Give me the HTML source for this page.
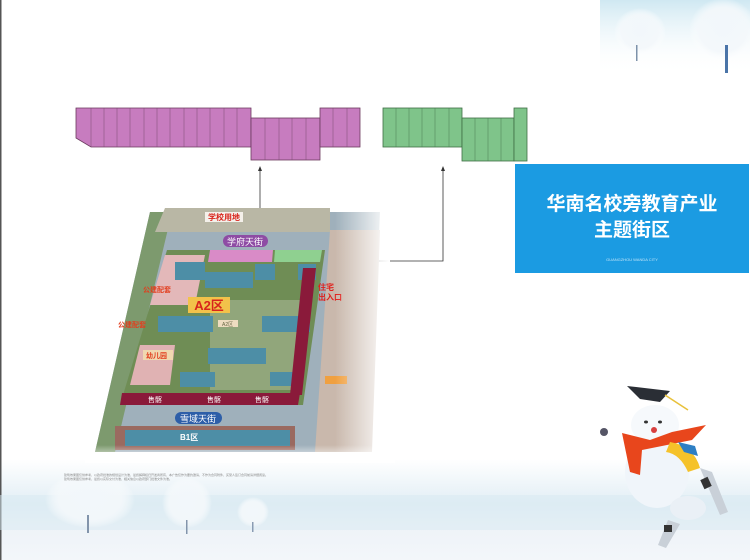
<!DOCTYPE html>
<html><head><meta charset="utf-8">
<style>
html,body{margin:0;padding:0;}
body{width:750px;height:560px;overflow:hidden;position:relative;background:#fff;font-family:"Liberation Sans","Noto Sans CJK SC",sans-serif;}
svg{position:absolute;left:0;top:0;}
.cn{font-family:"Liberation Sans","Noto Sans CJK SC",sans-serif;}
</style></head>
<body>
<svg width="750" height="560" viewBox="0 0 750 560" xmlns="http://www.w3.org/2000/svg">
<defs>
<linearGradient id="bg" x1="0" y1="0" x2="0" y2="1">
<stop offset="0" stop-color="#ffffff"/><stop offset="0.82" stop-color="#ffffff"/>
<stop offset="0.9" stop-color="#e2eef5"/><stop offset="0.94" stop-color="#eef3f8"/><stop offset="1" stop-color="#f3f6fa"/>
</linearGradient>
<linearGradient id="tr" x1="0" y1="0" x2="0" y2="1">
<stop offset="0" stop-color="#cfe8f2"/><stop offset="1" stop-color="#ffffff" stop-opacity="0"/>
</linearGradient>
<linearGradient id="fade" x1="0" y1="0" x2="1" y2="0">
<stop offset="0" stop-color="#fff" stop-opacity="0"/><stop offset="1" stop-color="#fff" stop-opacity="1"/>
</linearGradient>
<linearGradient id="fadeb" x1="0" y1="0" x2="0" y2="1">
<stop offset="0" stop-color="#fff" stop-opacity="0"/><stop offset="1" stop-color="#fff" stop-opacity="1"/>
</linearGradient>
<radialGradient id="tree"><stop offset="0" stop-color="#f2f7fb"/><stop offset="0.7" stop-color="#f4f8fb" stop-opacity="0.9"/><stop offset="1" stop-color="#fff" stop-opacity="0"/></radialGradient>
</defs>
<rect width="750" height="560" fill="url(#bg)"/>
<rect x="0" y="0" width="1.5" height="560" fill="#555"/>
<!-- top right sky -->
<rect x="600" y="0" width="150" height="75" fill="url(#tr)"/>
<ellipse cx="640" cy="32" rx="26" ry="24" fill="url(#tree)"/>
<rect x="636" y="45" width="1.5" height="16" fill="#7d92aa"/>
<ellipse cx="723" cy="30" rx="34" ry="32" fill="url(#tree)"/>
<rect x="725" y="45" width="3" height="28" fill="#4a74a8"/>
<!-- bottom snow scene -->
<rect x="0" y="495" width="750" height="35" fill="#d8e9f2" opacity="0.5"/>
<ellipse cx="90" cy="500" rx="45" ry="28" fill="url(#tree)"/>
<rect x="87" y="515" width="2" height="18" fill="#8294ab"/>
<ellipse cx="187" cy="503" rx="25" ry="25" fill="url(#tree)"/>
<rect x="186" y="520" width="1.5" height="14" fill="#8294ab"/>
<ellipse cx="253" cy="512" rx="16" ry="15" fill="url(#tree)"/>
<rect x="252" y="522" width="1.5" height="10" fill="#8a9cb3"/>

<!-- tiny text -->
<text x="64" y="476" font-size="3" fill="#888" class="cn">建筑效果图仅供参考，以政府批准的规划设计为准，最终解释权归开发商所有，本广告仅作为要约邀请，不作为合同附件，买受人签订合同前请详细阅读。</text>
<text x="64" y="480" font-size="3" fill="#888" class="cn">建筑效果图仅供参考，最终以实际交付为准，相关信息以政府部门批准文件为准。</text>

<!-- pink shops strip -->
<g stroke="#6b3a5e" stroke-width="0.8" fill="#c77cbf">
<polygon points="76,108 251,108 251,147 91,147 76,138"/>
<rect x="251" y="118" width="69" height="42"/>
<rect x="320" y="108" width="40" height="39"/>
</g>
<g stroke="#7a4a70" stroke-width="0.5">
<line x1="91" y1="108" x2="91" y2="147"/><line x1="104" y1="108" x2="104" y2="147"/><line x1="117" y1="108" x2="117" y2="147"/>
<line x1="130" y1="108" x2="130" y2="147"/><line x1="144" y1="108" x2="144" y2="147"/><line x1="157" y1="108" x2="157" y2="147"/>
<line x1="170" y1="108" x2="170" y2="147"/><line x1="184" y1="108" x2="184" y2="147"/><line x1="197" y1="108" x2="197" y2="147"/>
<line x1="210" y1="108" x2="210" y2="147"/><line x1="224" y1="108" x2="224" y2="147"/><line x1="237" y1="108" x2="237" y2="147"/>
<line x1="265" y1="118" x2="265" y2="160"/><line x1="279" y1="118" x2="279" y2="160"/><line x1="292" y1="118" x2="292" y2="160"/><line x1="306" y1="118" x2="306" y2="160"/>
<line x1="333" y1="108" x2="333" y2="147"/><line x1="347" y1="108" x2="347" y2="147"/>
</g>
<!-- green shops strip -->
<g stroke="#3f6e45" stroke-width="0.8" fill="#7fc48a">
<rect x="383" y="108" width="79" height="39"/>
<rect x="462" y="118" width="52" height="43"/>
<rect x="514" y="108" width="13" height="53"/>
</g>
<g stroke="#4a7a50" stroke-width="0.5">
<line x1="396" y1="108" x2="396" y2="147"/><line x1="409" y1="108" x2="409" y2="147"/><line x1="422" y1="108" x2="422" y2="147"/>
<line x1="435" y1="108" x2="435" y2="147"/><line x1="449" y1="108" x2="449" y2="147"/>
<line x1="475" y1="118" x2="475" y2="161"/><line x1="488" y1="118" x2="488" y2="161"/><line x1="501" y1="118" x2="501" y2="161"/>
</g>

<!-- connectors -->
<line x1="260" y1="168" x2="260" y2="232" stroke="#333" stroke-width="0.8"/>
<polygon points="258,171 260,166 262,171" fill="#333"/>
<polyline points="443,168 443,261 345,261" fill="none" stroke="#333" stroke-width="0.8"/>
<polygon points="441,171 443,166 445,171" fill="#333"/>

<!-- blue title box -->
<rect x="515" y="164" width="234" height="109" fill="#1b9be2"/>
<text x="632" y="210" text-anchor="middle" font-size="19" font-weight="bold" fill="#fff" class="cn">华南名校旁教育产业</text>
<text x="632" y="236" text-anchor="middle" font-size="19" font-weight="bold" fill="#fff" class="cn">主题街区</text>
<text x="632" y="261" text-anchor="middle" font-size="4" fill="#bfe3f7">GUANGZHOU WANDA CITY</text>

<!-- site map -->
<g>
<polygon points="150,212 380,212 370,452 95,452" fill="#9fb0bb"/>
<polygon points="150,212 172,212 115,452 95,452" fill="#7d9a6e"/>
<polygon points="330,230 380,230 372,452 315,452" fill="#c9b8ac"/>
<polygon points="165,208 330,208 330,232 155,232" fill="#b9b7a5"/>
<rect x="205" y="212" width="38" height="10" fill="#f4f0ea"/>
<text x="224" y="220" text-anchor="middle" font-size="8" font-weight="bold" fill="#d8241c" class="cn">学校用地</text>
<rect x="223" y="235" width="45" height="12" rx="6" fill="#8e4ca4"/>
<text x="245" y="245" text-anchor="middle" font-size="9" fill="#fff" class="cn">学府天街</text>
<!-- inner block -->
<polygon points="167,250 325,250 303,405 120,405" fill="#6f8d55"/>
<polygon points="210,250 273,250 272,262 208,262" fill="#d98bc7"/>
<polygon points="275,250 322,250 320,262 274,262" fill="#8fd090"/>
<polygon points="165,255 205,255 195,305 150,305" fill="#e3b8b9"/>
<polygon points="140,345 175,345 170,385 130,385" fill="#e0b2b3"/>
<rect x="210" y="300" width="90" height="90" fill="#a8b894" opacity="0.6"/>
<!-- buildings -->
<g fill="#4d8ea6">
<rect x="175" y="262" width="30" height="18"/><rect x="205" y="272" width="48" height="16"/>
<rect x="255" y="264" width="20" height="16"/><rect x="298" y="264" width="18" height="16"/>
<rect x="158" y="316" width="55" height="16"/><rect x="262" y="316" width="48" height="16"/>
<rect x="208" y="348" width="58" height="16"/><rect x="180" y="372" width="35" height="15"/><rect x="270" y="372" width="28" height="14"/>
</g>
<rect x="115" y="426" width="180" height="24" fill="#9a6a60"/>
<rect x="125" y="430" width="165" height="16" fill="#4d8ea6"/>
<!-- maroon shops -->
<polygon points="122,393 300,393 298,405 120,405" fill="#8a1a3a"/>
<polygon points="303,268 316,268 302,395 290,395" fill="#8a1a3a"/>
<text x="148" y="402" font-size="7" fill="#fff" class="cn">售髂</text>
<text x="207" y="402" font-size="7" fill="#fff" class="cn">售髂</text>
<text x="255" y="402" font-size="7" fill="#fff" class="cn">售髂</text>
<rect x="175" y="412" width="47" height="12" rx="6" fill="#2d5ea8"/>
<text x="198" y="422" text-anchor="middle" font-size="9" fill="#fff" class="cn">雪域天街</text>
<text x="180" y="440" font-size="8" font-weight="bold" fill="#fff">B1区</text>
<!-- labels -->
<rect x="188" y="297" width="42" height="16" fill="#f2c24a"/>
<text x="209" y="310" text-anchor="middle" font-size="13" font-weight="bold" fill="#d8241c" class="cn">A2区</text>
<text x="143" y="292" font-size="7" font-weight="bold" fill="#e23c1c" class="cn">公建配套</text>
<text x="118" y="327" font-size="7" font-weight="bold" fill="#e23c1c" class="cn">公建配套</text>
<rect x="143" y="350" width="30" height="10" fill="#f0d8b0"/>
<text x="146" y="358" font-size="7" font-weight="bold" fill="#e23c1c" class="cn">幼儿园</text>
<rect x="218" y="320" width="20" height="7" fill="#eedcc0"/>
<text x="222" y="326" font-size="5" fill="#664">A2区</text>
<text x="318" y="290" font-size="8" font-weight="bold" fill="#e0201c" class="cn">住宅</text>
<text x="318" y="300" font-size="8" font-weight="bold" fill="#e0201c" class="cn">出入口</text>
<rect x="325" y="376" width="22" height="8" fill="#f0a040"/>
<!-- fades -->
<rect x="335" y="205" width="55" height="255" fill="url(#fade)"/>
<rect x="85" y="445" width="310" height="18" fill="url(#fadeb)"/>
</g>

<!-- polar bear mascot -->
<g>
<polygon points="700,468 712,472 728,512 720,515" fill="#c9d0d8"/>
<rect x="702" y="478" width="8" height="10" fill="#333" transform="rotate(-25 706 483)"/>
<polygon points="668,520 680,524 666,548 658,545" fill="#c9d0d8"/>
<rect x="664" y="525" width="8" height="7" fill="#333"/>
<ellipse cx="657" cy="472" rx="32" ry="36" fill="#f0f5fa"/>
<ellipse cx="655" cy="425" rx="24" ry="20" fill="#f6f9fc"/>
<ellipse cx="688" cy="508" rx="18" ry="12" fill="#eaf0f6"/>
<ellipse cx="646" cy="422" rx="2" ry="1.5" fill="#333"/><ellipse cx="660" cy="422" rx="2" ry="1.5" fill="#333"/>
<ellipse cx="654" cy="430" rx="3" ry="3" fill="#d84040"/>
<path d="M622,433 L650,440 L672,432 L706,425 L692,440 L672,444 L642,450 L640,475 L630,472 Z" fill="#e8461c"/>
<path d="M670,442 Q694,446 700,468 L688,472 Q680,454 666,452 Z" fill="#f5c22a"/>
<path d="M678,442 L695,446 L698,456 L684,452 Z" fill="#2e7fc4"/>
<polygon points="627,386 670,391 660,402 640,399" fill="#2a2e35"/>
<line x1="665" y1="395" x2="688" y2="410" stroke="#e8c13a" stroke-width="1.5"/>
<circle cx="604" cy="432" r="4" fill="#556"/>
</g>
</svg>
</body></html>
